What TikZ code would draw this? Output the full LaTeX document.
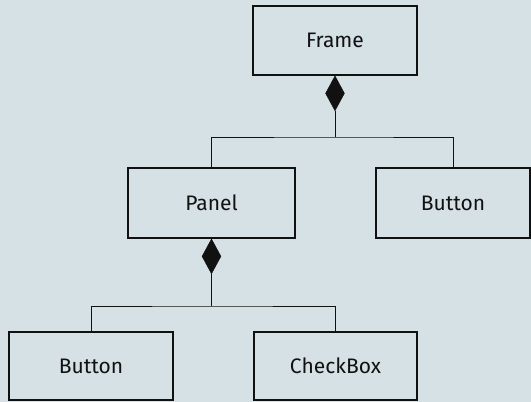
\documentclass[tikz,border=0pt]{standalone}
\usepackage{fontspec}
\setmainfont{Fira Sans}
\usetikzlibrary{shapes.geometric}
\definecolor{bg}{HTML}{D6E1E5}
\definecolor{ink}{HTML}{111111}
\begin{document}
\begin{tikzpicture}[x=1pt,y=-1pt,
  cls/.style={draw=ink,line width=1.3pt,rectangle,inner sep=0pt,font=\fontsize{21}{24}\selectfont,text=ink},
  comp/.style={draw=ink,fill=ink,diamond,inner sep=0pt,minimum width=19pt,minimum height=35pt,anchor=north},
  conn/.style={draw=ink,line width=0.9pt}]
\fill[bg] (0,0) rectangle (531,402);
\useasboundingbox (0,0) rectangle (531,402);
\node[cls,minimum width=164pt,minimum height=69pt] (frame) at (335,40.5) {Frame};
\node[cls,minimum width=167pt,minimum height=70pt] (panel) at (211.5,203) {Panel};
\node[cls,minimum width=154pt,minimum height=70pt] (btn1) at (453,203) {Button};
\node[cls,minimum width=164pt,minimum height=68pt] (btn2) at (91,366) {Button};
\node[cls,minimum width=163pt,minimum height=68pt] (chk) at (335.5,366) {CheckBox};
\node[comp] (d1) at (frame.south) {};
\node[comp] (d2) at (panel.south) {};
\coordinate (j1) at (frame.south |- 0,137);
\coordinate (j2) at (panel.south |- 0,306);
\draw[conn] (d1.south) -- (j1);
\draw[conn] (panel.north) |- (j1) -| (btn1.north);
\draw[conn] (d2.south) -- (j2);
\draw[conn] (btn2.north) |- (j2) -| (chk.north);
\end{tikzpicture}
\end{document}
